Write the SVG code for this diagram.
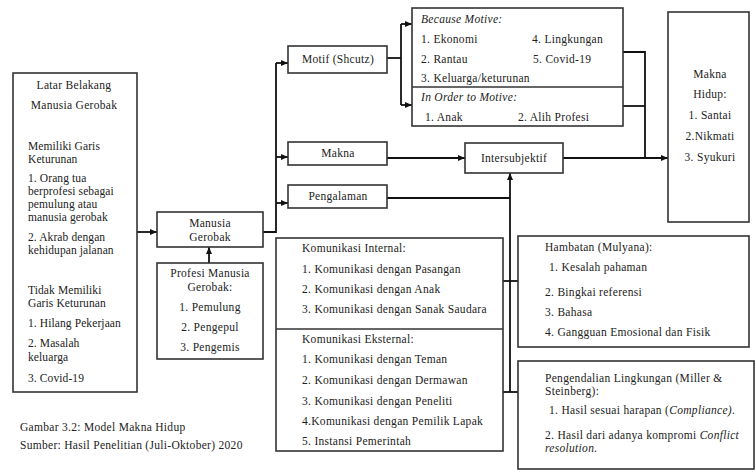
<svg xmlns="http://www.w3.org/2000/svg" width="756" height="472" viewBox="0 0 756 472">
<defs>
<marker id="ah" markerWidth="8" markerHeight="8" refX="7" refY="4" orient="auto" markerUnits="userSpaceOnUse">
<path d="M0,1 L7,4 L0,7 Z" fill="#111"/>
</marker>
<style>
.box{fill:#fff;stroke:#333;stroke-width:1.6}
.t{font-family:'Liberation Serif','DejaVu Serif',serif;font-size:11.5px;fill:#222;letter-spacing:0.3px}
.s{letter-spacing:0.1px}
.c{text-anchor:middle}
.i{font-style:italic}
.ln{fill:none;stroke:#111;stroke-width:1.8}
.ar{fill:none;stroke:#111;stroke-width:1.8;marker-end:url(#ah)}
</style>
</defs>
<rect width="756" height="472" fill="#fff"/>
<g id="connectors">
<path class="ar" d="M137,232 H157"/>
<path class="ar" d="M209,263 V247"/>
<path class="ln" d="M263,232 H276 V63"/>
<path class="ar" d="M276,63 H288"/>
<path class="ar" d="M276,157 H288"/>
<path class="ar" d="M276,203 H288"/>
<path class="ln" d="M387,58 H401"/>
<path class="ln" d="M401,24 V105"/>
<path class="ar" d="M401,24 H412"/>
<path class="ar" d="M401,105 H412"/>
<path class="ar" d="M387,158 H465"/>
<path class="ln" d="M387,198 H510"/>
<path class="ar" d="M510,392 V173"/>
<path class="ln" d="M503,281 H518"/>
<path class="ln" d="M503,392 H518"/>
<path class="ln" d="M623,52 H645 V158"/>
<path class="ln" d="M623,106 H645"/>
<path class="ar" d="M563,158 H668"/>
</g>
<g id="latar">
<rect class="box" x="13" y="73" width="124" height="319"/>
<text class="t c" x="74" y="89">Latar Belakang</text>
<text class="t c" x="74" y="109">Manusia Gerobak</text>
<text class="t s" x="28" y="150">Memiliki Garis</text>
<text class="t s" x="28" y="163">Keturunan</text>
<text class="t s" x="28" y="182">1. Orang tua</text>
<text class="t s" x="28" y="195">berprofesi sebagai</text>
<text class="t s" x="28" y="208">pemulung atau</text>
<text class="t s" x="28" y="221">manusia gerobak</text>
<text class="t s" x="28" y="241">2. Akrab dengan</text>
<text class="t s" x="28" y="254">kehidupan jalanan</text>
<text class="t s" x="28" y="294">Tidak Memiliki</text>
<text class="t s" x="28" y="307">Garis Keturunan</text>
<text class="t s" x="28" y="327">1. Hilang Pekerjaan</text>
<text class="t s" x="28" y="347">2. Masalah</text>
<text class="t s" x="28" y="361">keluarga</text>
<text class="t s" x="28" y="382">3. Covid-19</text>
</g>
<g id="manusia">
<rect class="box" x="157" y="212" width="106" height="35"/>
<text class="t c" x="210" y="227">Manusia</text>
<text class="t c" x="210" y="241">Gerobak</text>
</g>
<g id="profesi">
<rect class="box" x="157" y="263" width="106" height="96"/>
<text class="t c" x="210" y="277">Profesi Manusia</text>
<text class="t c" x="210" y="291">Gerobak:</text>
<text class="t c" x="210" y="311">1. Pemulung</text>
<text class="t c" x="210" y="331">2. Pengepul</text>
<text class="t c" x="210" y="351">3. Pengemis</text>
</g>
<g id="motif">
<rect class="box" x="288" y="46" width="99" height="27"/>
<text class="t c" x="338" y="63">Motif  (Shcutz)</text>
</g>
<g id="makna">
<rect class="box" x="288" y="142" width="99" height="23"/>
<text class="t c" x="338" y="157">Makna</text>
</g>
<g id="pengalaman">
<rect class="box" x="288" y="185" width="99" height="23"/>
<text class="t c" x="338" y="200">Pengalaman</text>
</g>
<g id="motive">
<rect class="box" x="412" y="8" width="211" height="118"/>
<line x1="412" y1="87" x2="623" y2="87" stroke="#333" stroke-width="1.6"/>
<text class="t i" x="421" y="23">Because Motive:</text>
<text class="t" x="421" y="43">1. Ekonomi</text>
<text class="t" x="421" y="63">2. Rantau</text>
<text class="t" x="421" y="82">3. Keluarga/keturunan</text>
<text class="t" x="532" y="43">4. Lingkungan</text>
<text class="t" x="533" y="63">5. Covid-19</text>
<text class="t i" x="421" y="101">In Order to Motive:</text>
<text class="t" x="425" y="121">1. Anak</text>
<text class="t" x="518" y="121">2. Alih Profesi</text>
</g>
<g id="intersubjektif">
<rect class="box" x="465" y="143" width="98" height="30"/>
<text class="t c" x="514" y="162">Intersubjektif</text>
</g>
<g id="maknahidup">
<rect class="box" x="668" y="12" width="81" height="210"/>
<text class="t c" x="710" y="78">Makna</text>
<text class="t c" x="710" y="98">Hidup:</text>
<text class="t c" x="710" y="119">1. Santai</text>
<text class="t c" x="710" y="140">2.Nikmati</text>
<text class="t c" x="710" y="161">3. Syukuri</text>
</g>
<g id="komunikasi">
<rect class="box" x="276" y="238" width="227" height="213"/>
<line x1="276" y1="329" x2="503" y2="329" stroke="#333" stroke-width="1.6"/>
<text class="t" x="302" y="252">Komunikasi Internal:</text>
<text class="t" x="302" y="273">1. Komunikasi dengan Pasangan</text>
<text class="t" x="302" y="293">2. Komunikasi dengan Anak</text>
<text class="t" x="302" y="313">3. Komunikasi dengan Sanak Saudara</text>
<text class="t" x="302" y="343">Komunikasi Eksternal:</text>
<text class="t" x="302" y="363">1. Komunikasi dengan Teman</text>
<text class="t" x="302" y="384">2. Komunikasi dengan Dermawan</text>
<text class="t" x="302" y="405">3. Komunikasi dengan Peneliti</text>
<text class="t" x="302" y="425">4.Komunikasi dengan Pemilik Lapak</text>
<text class="t" x="302" y="445">5. Instansi Pemerintah</text>
</g>
<g id="hambatan">
<rect class="box" x="518" y="236" width="231" height="111"/>
<text class="t" x="545" y="251">Hambatan (Mulyana):</text>
<text class="t" x="549" y="271">1. Kesalah pahaman</text>
<text class="t" x="545" y="296">2. Bingkai referensi</text>
<text class="t" x="545" y="316">3. Bahasa</text>
<text class="t" x="545" y="336">4. Gangguan Emosional dan Fisik</text>
</g>
<g id="pengendalian">
<rect class="box" x="518" y="361" width="236" height="108"/>
<text class="t" x="545" y="382">Pengendalian Lingkungan (Miller &amp;</text>
<text class="t" x="545" y="395">Steinberg):</text>
<text class="t" x="549" y="414">1. Hasil sesuai harapan (<tspan class="i">Compliance)</tspan>.</text>
<text class="t" x="545" y="439">2. Hasil dari adanya kompromi <tspan class="i">Conflict</tspan></text>
<text class="t i" x="545" y="452">resolution.</text>
</g>
<g id="caption">
<text class="t" x="20" y="431">Gambar 3.2: Model Makna Hidup</text>
<text class="t" x="20" y="449">Sumber: Hasil Penelitian (Juli-Oktober) 2020</text>
</g>
</svg>
